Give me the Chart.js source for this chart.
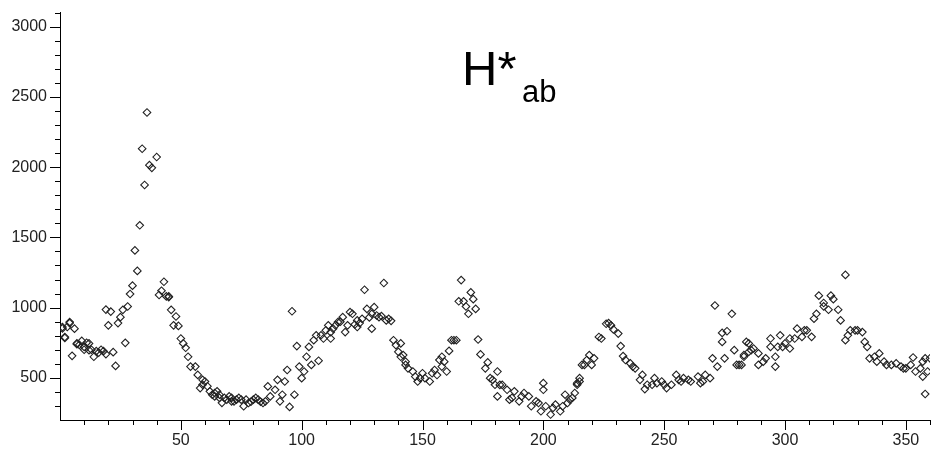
<!DOCTYPE html>
<html>
<head>
<meta charset="utf-8">
<script src="https://cdn.jsdelivr.net/npm/chart.js@4/dist/chart.umd.min.js"></script>
<style>
html,body{margin:0;padding:0;background:#fff;}
#wrap{position:relative;width:937px;height:454px;overflow:hidden;}
#c{position:absolute;left:0;top:0;}
.t{position:absolute;font-family:"Liberation Sans",Arial,sans-serif;color:#000;white-space:nowrap;pointer-events:none;}
#tH{left:462px;top:43.5px;font-size:49px;line-height:49px;}
#tSub{left:522px;top:75.5px;font-size:31px;line-height:31px;}
</style>
</head>
<body>
<div id="wrap">
<canvas id="c" width="937" height="454" style="width:937px;height:454px;"></canvas>
<div class="t" id="tH">H*</div><div class="t" id="tSub">ab</div>
</div>
<script>
// Hue angle (degrees) of each sample
const hueDegrees = [
1,1,2,2,3,4,4,5,6,7,7,8,9,10,10,
11,12,12,13,14,15,16,17,18,19,19,20,21,22,23,
24,25,26,27,28,29,30,31,32,33,34,35,36,37,38,
40,41,42,43,44,45,45,46,47,48,49,50,51,52,53,
54,56,57,58,59,59,60,61,62,63,64,64,65,66,66,
67,68,69,70,71,71,72,73,74,75,76,77,78,79,80,
81,82,83,84,85,86,87,89,90,91,92,93,94,95,96,
97,98,99,100,101,102,103,104,105,106,107,108,109,110,111,
112,112,113,114,115,116,117,118,119,120,121,122,123,123,124,
125,126,127,128,129,129,130,131,132,133,134,135,136,137,138,
139,140,141,141,142,143,143,144,146,147,148,149,150,151,153,
154,155,156,157,158,158,159,160,161,162,163,164,165,166,167,
168,169,170,171,172,173,174,176,177,178,179,180,181,181,182,
183,185,186,187,188,190,191,192,194,195,197,198,199,200,200,
201,203,204,205,207,208,209,210,211,212,213,214,214,215,215,
216,217,218,219,220,221,223,224,226,227,228,229,231,232,233,
234,236,237,238,240,241,242,243,245,246,247,249,250,251,253,
255,256,257,258,260,261,264,265,266,267,269,270,271,272,274,
274,275,276,278,279,280,281,282,283,283,284,285,285,286,287,
289,289,291,292,294,294,296,296,297,298,299,300,302,302,304,
305,307,308,309,311,312,313,314,316,316,318,319,320,322,323,
325,325,326,327,329,330,332,333,334,335,337,338,339,341,342,
344,346,348,349,350,352,353,354,356,357,357,358,358,359,360
];
// Count for each sample
const countValues = [
852,862,784,791,862,890,897,657,850,745,740,735,763,720,700,
750,697,745,700,650,690,680,700,690,669,986,874,972,683,585,
890,932,984,749,1008,1097,1156,1407,1261,1586,2131,1873,2389,2014,1995,
2072,1090,1120,1184,1080,1080,1075,984,874,937,870,780,745,714,650,
580,580,521,427,486,451,474,440,404,380,392,368,404,380,357,
322,357,345,368,357,333,333,345,357,345,298,345,321,330,345,
357,345,330,321,333,439,368,415,486,333,380,474,556,293,974,
380,726,580,498,545,650,720,592,768,803,622,803,780,838,874,
780,825,850,874,897,900,932,826,874,968,956,880,862,909,890,
920,1127,991,930,850,956,1003,944,932,940,1175,909,920,906,768,
733,685,745,650,662,615,592,568,545,509,474,498,533,498,474,
533,556,520,627,650,580,615,545,692,768,768,768,1045,1196,1045,
1008,956,1108,1060,991,773,667,568,610,498,486,451,545,368,450,
450,415,345,357,404,333,368,392,368,298,333,321,262,462,415,
298,239,286,310,262,298,380,321,345,357,392,451,462,474,498,
592,592,627,662,592,639,791,780,885,890,874,845,815,726,655,
627,603,580,568,486,521,420,451,451,498,462,474,451,427,451,
521,486,474,498,486,474,509,462,474,521,498,639,1015,580,820,
756,639,832,956,697,592,592,592,650,662,756,745,685,697,709,
674,592,615,639,780,721,580,650,721,803,721,745,709,780,780,
850,792,838,838,792,921,956,1085,1033,1009,985,1085,1060,985,909,
1233,768,803,838,838,838,826,756,721,639,650,615,674,615,592,
592,603,580,568,568,592,645,545,568,509,615,639,385,545,639
];
const xRange = [0, 360];
const yRange = [200, 3100];
const xLabelStep = 50, xMinorStep = 10;
const yLabelStep = 500, yMinorStep = 100;

const points = hueDegrees.map((x, i) => ({x: x, y: countValues[i]}));

const tickFont = {family: '"Liberation Sans", Arial, sans-serif', size: 16};

const tickMarks = {
  id: 'tickMarks',
  afterDraw(chart) {
    const ctx = chart.ctx, a = chart.chartArea;
    const xs = chart.scales.x, ys = chart.scales.y;
    ctx.save();
    ctx.strokeStyle = '#000';
    ctx.lineWidth = 1;
    ctx.beginPath();
    ys.ticks.forEach(t => {
      if (t.value === yRange[0]) return;
      const p = Math.round(ys.getPixelForValue(t.value)) + 0.5;
      const len = (t.value % yLabelStep === 0) ? 10 : 5;
      ctx.moveTo(a.left - len, p); ctx.lineTo(a.left, p);
    });
    xs.ticks.forEach(t => {
      if (t.value === xRange[0]) return;
      const p = Math.round(xs.getPixelForValue(t.value)) + 0.5;
      const len = (t.value % xLabelStep === 0) ? 10 : 5;
      ctx.moveTo(p, a.bottom); ctx.lineTo(p, a.bottom + len);
    });
    ctx.stroke();
    ctx.restore();
  }
};

new Chart(document.getElementById('c'), {
  type: 'scatter',
  data: {
    datasets: [{
      data: points,
      pointStyle: 'rectRot',
      radius: 3.8,
      borderWidth: 1.1,
      borderColor: '#222',
      backgroundColor: 'rgba(0,0,0,0)'
    }]
  },
  options: {
    responsive: false,
    animation: false,
    layout: {padding: {top: 9, right: 7, left: 0, bottom: 0}},
    plugins: {legend: {display: false}, tooltip: {enabled: false}, title: {display: false}},
    scales: {
      x: {
        type: 'linear', min: xRange[0], max: xRange[1],
        afterFit(s) { s.height = 34; },
        border: {display: true, color: '#000', width: 1},
        grid: {display: true, drawOnChartArea: false, tickLength: 10, color: 'rgba(0,0,0,0)'},
        ticks: {
          stepSize: xMinorStep, autoSkip: false, maxRotation: 0, padding: 1,
          color: '#222', font: tickFont,
          callback: v => (v % xLabelStep === 0 && v > 0) ? String(v) : ''
        }
      },
      y: {
        type: 'linear', min: yRange[0], max: yRange[1],
        afterFit(s) { s.width = 60; },
        border: {display: true, color: '#000', width: 1},
        grid: {display: true, drawOnChartArea: false, tickLength: 10, color: 'rgba(0,0,0,0)'},
        ticks: {
          stepSize: yMinorStep, autoSkip: false, padding: 3,
          color: '#222', font: tickFont,
          callback: v => (v % yLabelStep === 0) ? String(v) : ''
        }
      }
    }
  },
  plugins: [tickMarks]
});
</script>
</body>
</html>
